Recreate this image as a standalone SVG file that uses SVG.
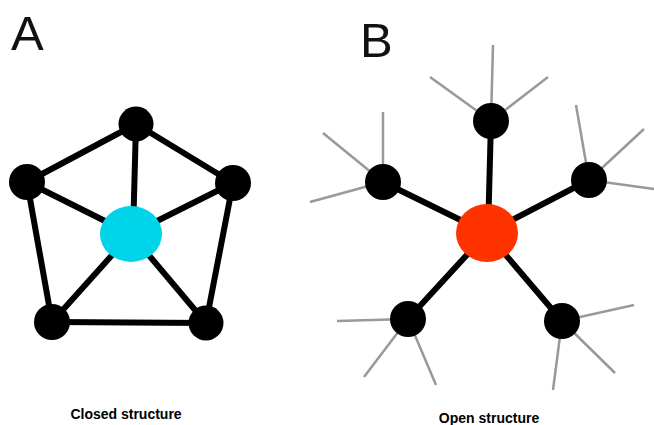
<svg xmlns="http://www.w3.org/2000/svg" width="654" height="425" viewBox="0 0 654 425">
<style>
.edge{stroke:#000;stroke-width:6;stroke-linecap:round}
.twig{stroke:#999;stroke-width:2.5}
.node{fill:#000}
.big{font-family:"Liberation Sans",Arial,sans-serif;font-size:49px;fill:#111}
.cap{font-family:"Liberation Sans",Arial,sans-serif;font-size:14px;font-weight:bold;fill:#000;text-anchor:middle}
</style>
<rect width="654" height="425" fill="#fff"/>
<text class="big" x="11" y="50">A</text>
<text class="big" x="360" y="57">B</text>
<g id="connectors">
  <g id="closed-edges">
    <line class="edge" x1="136" y1="124" x2="27" y2="182"/>
    <line class="edge" x1="136" y1="124" x2="233" y2="183"/>
    <line class="edge" x1="136" y1="124" x2="133" y2="234"/>
    <line class="edge" x1="27" y1="182" x2="131" y2="234"/>
    <line class="edge" x1="233" y1="183" x2="131" y2="234"/>
    <line class="edge" x1="27" y1="182" x2="52" y2="322"/>
    <line class="edge" x1="233" y1="183" x2="206" y2="323"/>
    <line class="edge" x1="52" y1="322" x2="206" y2="323"/>
    <line class="edge" x1="52" y1="322" x2="131" y2="234"/>
    <line class="edge" x1="206" y1="323" x2="131" y2="234"/>
  </g>
  <g id="open-edges">
    <line class="edge" x1="491" y1="121" x2="488" y2="233"/>
    <line class="edge" x1="383" y1="182" x2="487" y2="233"/>
    <line class="edge" x1="589" y1="180" x2="487" y2="233"/>
    <line class="edge" x1="408" y1="319" x2="487" y2="233"/>
    <line class="edge" x1="562" y1="321" x2="487" y2="233"/>
  </g>
  <g id="open-twigs">
    <line class="twig" x1="491" y1="121" x2="493" y2="45"/>
    <line class="twig" x1="491" y1="121" x2="548" y2="77"/>
    <line class="twig" x1="491" y1="121" x2="430" y2="77"/>
    <line class="twig" x1="383" y1="182" x2="383" y2="112"/>
    <line class="twig" x1="383" y1="182" x2="323" y2="133"/>
    <line class="twig" x1="383" y1="182" x2="310" y2="202"/>
    <line class="twig" x1="589" y1="180" x2="576" y2="105"/>
    <line class="twig" x1="589" y1="180" x2="644" y2="129"/>
    <line class="twig" x1="589" y1="180" x2="654" y2="189"/>
    <line class="twig" x1="408" y1="319" x2="337" y2="321"/>
    <line class="twig" x1="408" y1="319" x2="364" y2="377"/>
    <line class="twig" x1="408" y1="319" x2="436" y2="385"/>
    <line class="twig" x1="562" y1="321" x2="634" y2="305"/>
    <line class="twig" x1="562" y1="321" x2="553" y2="390"/>
    <line class="twig" x1="562" y1="321" x2="615" y2="373"/>
  </g>
</g>
<g id="closed-top"><ellipse class="node" cx="136" cy="124" rx="17.5" ry="17.5"/></g>
<g id="closed-left"><ellipse class="node" cx="27" cy="182" rx="18" ry="18"/></g>
<g id="closed-right"><ellipse class="node" cx="233" cy="183" rx="18" ry="18"/></g>
<g id="closed-bottom-left"><ellipse class="node" cx="52" cy="322" rx="18" ry="18"/></g>
<g id="closed-bottom-right"><ellipse class="node" cx="206" cy="323" rx="17.5" ry="17.5"/></g>
<g id="closed-center"><ellipse cx="131" cy="234" rx="31" ry="28" fill="#00D4E8"/></g>
<g id="open-top"><ellipse class="node" cx="491" cy="121" rx="18" ry="18"/></g>
<g id="open-left"><ellipse class="node" cx="383" cy="182" rx="18" ry="18"/></g>
<g id="open-right"><ellipse class="node" cx="589" cy="180" rx="18" ry="18"/></g>
<g id="open-bottom-left"><ellipse class="node" cx="408" cy="319" rx="18" ry="18"/></g>
<g id="open-bottom-right"><ellipse class="node" cx="562" cy="321" rx="18" ry="18"/></g>
<g id="open-center"><ellipse cx="487" cy="233" rx="31" ry="29" fill="#FF3300"/></g>
<text class="cap" x="126" y="419">Closed structure</text>
<text class="cap" x="489" y="423">Open structure</text>
</svg>
